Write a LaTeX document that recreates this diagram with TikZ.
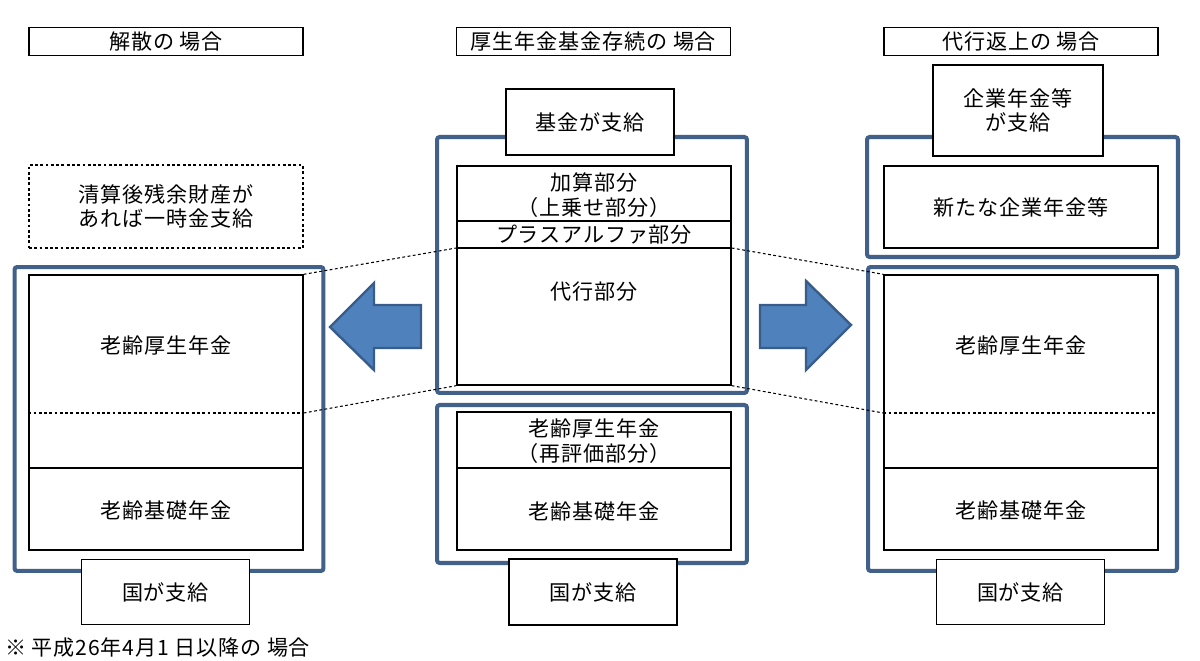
\documentclass[tikz,border=0pt]{standalone}
\usepackage{fontspec}
\setmainfont{Noto Sans CJK JP}[LetterSpace=4]
\definecolor{framec}{HTML}{41608A}
\definecolor{arrowfill}{HTML}{4F81BD}
\definecolor{arrowline}{HTML}{385D8A}

\begin{document}
\begin{tikzpicture}[x=0.02cm,y=-0.02cm,font=\fontsize{12}{14}\selectfont,
  pbox/.style={draw,fill=white,line width=0.8pt,inner sep=0pt,align=center},
  bluebox/.style={draw=framec,line width=2.3pt,rounded corners=1.5pt,inner sep=0pt},
  dots/.style={dash pattern=on 1.6pt off 1.4pt,line width=0.6pt},
  fatarrow/.style={fill=arrowfill,draw=arrowline,line width=1.4pt,line join=miter}]
\useasboundingbox (0,0) rectangle (1200,661);
\coordinate (lvA) at (0,248); \coordinate (lvB) at (0,385);
\coordinate (lvC) at (0,413); \coordinate (lvD) at (0,468);
\foreach \cx/\nm/\txt in {166/tL/解散の 場合,593.5/tM/厚生年金基金存続の 場合,1021/tR/代行返上の 場合}
  \node[pbox,minimum width=5.48cm,minimum height=0.56cm] (\nm) at (\cx,41.5) {\txt};
\node[pbox,dash pattern=on 1.6pt off 1.4pt,minimum width=5.48cm,minimum height=1.66cm] (lNote) at (166,206.5) {清算後残余財産が\\あれば一時金支給};
\foreach \cx/\fx/\nm in {166/169/l,1021/1022.5/r}{
  \node[bluebox,minimum width=6.18cm,minimum height=6.08cm] (\nm Frame) at (\fx,419) {};
  \node[pbox,minimum width=5.48cm,minimum height=5.5cm] (\nm Box) at (\cx,412.5) {};
  \draw[dots] (\nm Box.west |- lvC) -- (\nm Box.east |- lvC);
  \draw[line width=0.8pt] (\nm Box.west |- lvD) -- (\nm Box.east |- lvD);
  \node (\nm Kosei) at (\cx,345) {老齢厚生年金};
  \node (\nm Kiso) at (\cx,510) {老齢基礎年金};
  \node[pbox,minimum width=3.36cm,minimum height=1.3cm] (\nm Pay) at (\cx-0.5,592) {国が支給};
}
\node[bluebox,minimum width=6.2cm,minimum height=5.12cm] (mFrameA) at (592,265) {};
\node[pbox,minimum width=3.36cm,minimum height=1.32cm] (mFund) at (590,122) {基金が支給};
\node[pbox,minimum width=5.48cm,minimum height=4.38cm] (mBoxA) at (594,275.5) {};
\draw[line width=0.8pt] (mBoxA.west |- 0,221) -- (mBoxA.east |- 0,221);
\draw[line width=0.8pt] (mBoxA.west |- lvA) -- (mBoxA.east |- lvA);
\node[align=center] (mKasan) at (594,195) {加算部分\\（上乗せ部分）};
\node (mPlus) at (594,235) {プラスアルファ部分};
\node (mDaiko) at (594,292) {代行部分};
\node[bluebox,minimum width=6.2cm,minimum height=3.16cm] (mFrameB) at (592,484) {};
\node[pbox,minimum width=5.48cm,minimum height=2.76cm] (mBoxB) at (594,481) {};
\draw[line width=0.8pt] (mBoxB.west |- lvD) -- (mBoxB.east |- lvD);
\node[align=center] (mSaihyoka) at (594,441) {老齢厚生年金\\（再評価部分）};
\node (mKiso) at (594,511) {老齢基礎年金};
\node[pbox,minimum width=3.36cm,minimum height=1.32cm] (mPay) at (593,592) {国が支給};
\node[bluebox,minimum width=6.22cm,minimum height=2.4cm] (rFrameA) at (1022.5,197) {};
\node[pbox,minimum width=3.4cm,minimum height=1.82cm] (rFund) at (1018,110.5) {企業年金等\\が支給};
\node[pbox,minimum width=5.48cm,minimum height=1.64cm] (rNew) at (1021,207) {新たな企業年金等};
\draw[dots] (lBox.north east) -- (mBoxA.west |- lvA);
\draw[dots] (mBoxA.east |- lvA) -- (rBox.north west);
\draw[dots] (lBox.east |- lvC) -- (mBoxA.south west);
\draw[dots] (mBoxA.south east) -- (rBox.west |- lvC);
\draw[fatarrow] (330,327) -- (374,283) -- (374,305) -- (421,305) -- (421,348) -- (374,348) -- (374,370) -- cycle;
\draw[fatarrow] (851,325) -- (806,281) -- (806,305) -- (760,305) -- (760,348) -- (806,348) -- (806,370) -- cycle;
\node[anchor=west,inner sep=0pt] (note) at (5,648) {※ 平成26年4月1 日以降の 場合};
\end{tikzpicture}
\end{document}
